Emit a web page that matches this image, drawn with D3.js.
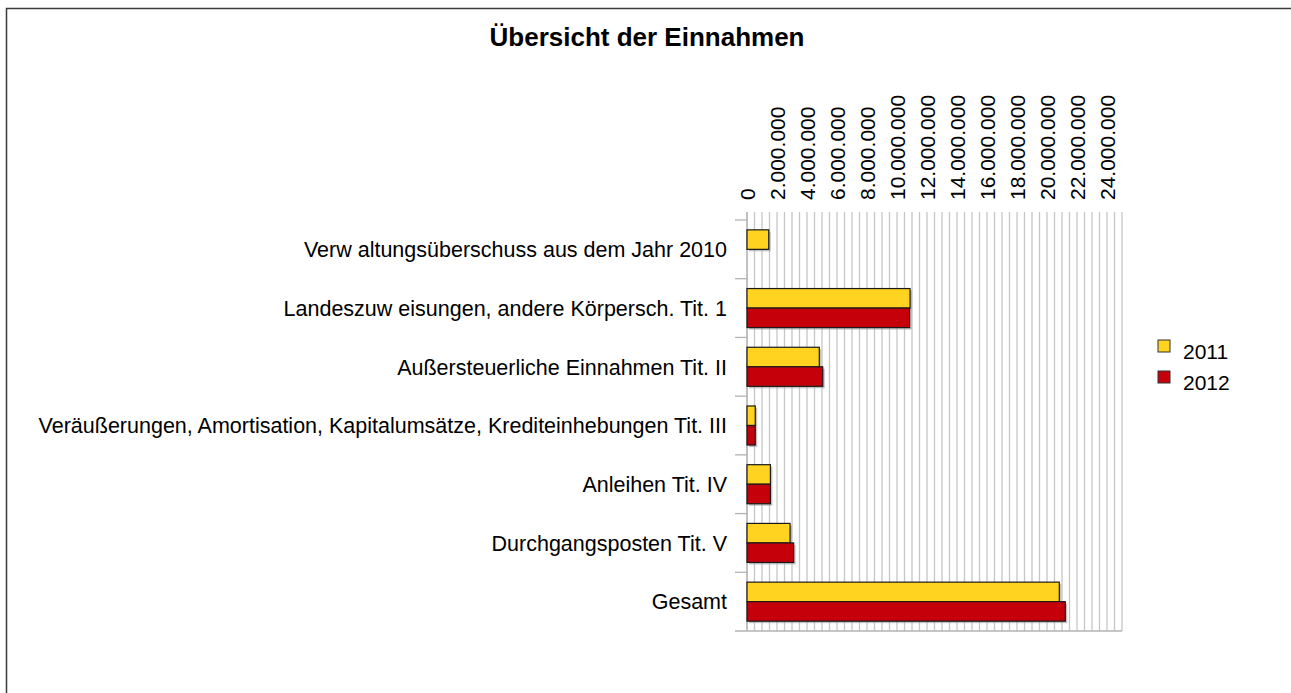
<!DOCTYPE html>
<html>
<head>
<meta charset="utf-8">
<script src="https://cdn.jsdelivr.net/npm/d3@7"></script>
<style>
  body { margin: 0; background: #fff; }
  svg { display: block; }
</style>
</head>
<body>
<div id="chart"></div>
<script>
// categories and values
var categories = [
  "Verw altungsüberschuss aus dem Jahr 2010",
  "Landeszuw eisungen, andere Körpersch. Tit. 1",
  "Außersteuerliche Einnahmen Tit. II",
  "Veräußerungen, Amortisation, Kapitalumsätze, Krediteinhebungen Tit. III",
  "Anleihen Tit. IV",
  "Durchgangsposten Tit. V",
  "Gesamt"
];
var seriesNames = ["2011", "2012"];
var values2011 = [1450000, 10870000, 4820000, 550000, 1560000, 2870000, 20820000];
var values2012 = [null, 10840000, 5050000, 550000, 1560000, 3110000, 21220000];
var tickValues = [0, 2e6, 4e6, 6e6, 8e6, 10e6, 12e6, 14e6, 16e6, 18e6, 20e6, 22e6, 24e6];
var colors = ["#ffd320", "#c5000b"];

var W = 1291, H = 693;
var plot = { left: 747, right: 1122, top: 220, bottom: 631 };

var svg = d3.select("#chart").append("svg")
  .attr("width", W)
  .attr("height", H)
  .style("font-family", "'Liberation Sans', Arial, sans-serif");

// outer frame
svg.append("rect")
  .attr("x", 6.5).attr("y", 8.5)
  .attr("width", 1290).attr("height", 700)
  .attr("fill", "none")
  .attr("stroke", "#3a3a3a")
  .attr("stroke-width", 1.5);

// title
svg.append("text")
  .attr("x", 647).attr("y", 46)
  .attr("text-anchor", "middle")
  .attr("font-size", "26px")
  .attr("font-weight", "bold")
  .attr("fill", "#000")
  .text("Übersicht der Einnahmen");

var x = d3.scaleLinear().domain([0, 25e6]).range([plot.left, plot.right]);
var y = d3.scaleBand().domain(categories).range([plot.top, plot.bottom]).paddingInner(0);

var groupH = y.bandwidth() * 0.665;
var ySub = d3.scaleBand().domain(seriesNames).range([0, groupH]);

// grid lines every 500.000
var gridVals = d3.range(0, 25e6 + 1, 5e5);
svg.append("g").selectAll("line")
  .data(gridVals)
  .enter().append("line")
  .attr("x1", d => x(d)).attr("x2", d => x(d))
  .attr("y1", plot.top - 8).attr("y2", plot.bottom)
  .attr("stroke", "#c6c6c6")
  .attr("stroke-width", 1.3);

// bottom line and category ticks
svg.append("line")
  .attr("x1", plot.left - 12).attr("x2", plot.right)
  .attr("y1", plot.bottom).attr("y2", plot.bottom)
  .attr("stroke", "#b3b3b3").attr("stroke-width", 1.3);
svg.append("line")
  .attr("x1", plot.left).attr("x2", plot.left)
  .attr("y1", plot.top - 8).attr("y2", plot.bottom)
  .attr("stroke", "#b3b3b3").attr("stroke-width", 1.3);
svg.append("g").selectAll("line")
  .data(categories)
  .enter().append("line")
  .attr("x1", plot.left - 12).attr("x2", plot.left)
  .attr("y1", d => y(d)).attr("y2", d => y(d))
  .attr("stroke", "#b3b3b3").attr("stroke-width", 1.3);

// top axis tick labels (German number format)
var de = d3.formatLocale({ decimal: ",", thousands: ".", grouping: [3], currency: ["", " €"] });
var fmt = de.format(",d");
svg.append("g").selectAll("text")
  .data(tickValues)
  .enter().append("text")
  .attr("transform", d => "translate(" + x(d) + ",200) rotate(-90)")
  .attr("dy", "0.36em")
  .attr("text-anchor", "start")
  .attr("font-size", "21px")
  .attr("fill", "#000")
  .text(d => fmt(d));

// category labels
svg.append("g").selectAll("text")
  .data(categories)
  .enter().append("text")
  .attr("x", 727)
  .attr("y", d => y(d) + y.bandwidth() / 2)
  .attr("dy", "0.36em")
  .attr("text-anchor", "end")
  .attr("font-size", "21.5px")
  .attr("fill", "#000")
  .text(d => d);

// bars
var rows = [];
categories.forEach(function(c, i) {
  rows.push({ cat: c, series: "2011", value: values2011[i], color: colors[0] });
  rows.push({ cat: c, series: "2012", value: values2012[i], color: colors[1] });
});
rows = rows.filter(d => d.value != null);

var barG = svg.append("g");
function barY(d) {
  return y(d.cat) + (y.bandwidth() - groupH) / 2 + ySub(d.series);
}
// shadow
barG.selectAll("rect.shadow")
  .data(rows)
  .enter().append("rect")
  .attr("class", "shadow")
  .attr("x", x(0) + 2)
  .attr("y", d => barY(d) + 2)
  .attr("width", d => x(d.value) - x(0))
  .attr("height", ySub.bandwidth())
  .attr("fill", "#999")
  .attr("opacity", 0.6);
barG.selectAll("rect.bar")
  .data(rows)
  .enter().append("rect")
  .attr("class", "bar")
  .attr("x", x(0))
  .attr("y", d => barY(d))
  .attr("width", d => x(d.value) - x(0))
  .attr("height", ySub.bandwidth())
  .attr("fill", d => d.color)
  .attr("stroke", "#1a1a1a")
  .attr("stroke-width", 1.2);

// legend
var legend = svg.append("g").selectAll("g")
  .data(seriesNames)
  .enter().append("g")
  .attr("transform", (d, i) => "translate(1158," + (340 + i * 31) + ")");
legend.append("rect")
  .attr("width", 12).attr("height", 12)
  .attr("fill", (d, i) => colors[i])
  .attr("stroke", "#333").attr("stroke-width", 1);
legend.append("text")
  .attr("x", 25).attr("y", 19)
  .attr("font-size", "21px")
  .attr("fill", "#000")
  .text(d => d);
</script>
</body>
</html>
